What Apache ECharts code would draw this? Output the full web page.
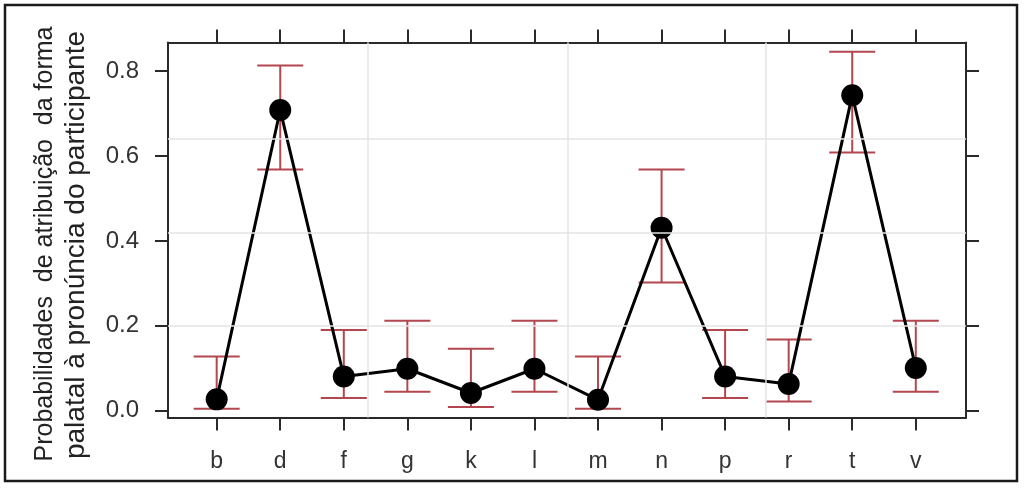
<!DOCTYPE html>
<html>
<head>
<meta charset="utf-8">
<script src="https://cdn.jsdelivr.net/npm/echarts@6/dist/echarts.min.js"></script>
<style>
  html, body { margin: 0; padding: 0; background: #fff; }
  #main { width: 1024px; height: 488px; }
</style>
</head>
<body>
<div id="main"></div>
<script>
// categories (consonants) and fitted probabilities with confidence limits
const categories = ['b', 'd', 'f', 'g', 'k', 'l', 'm', 'n', 'p', 'r', 't', 'v'];
const fitted = [0.027, 0.708, 0.081, 0.099, 0.042, 0.099, 0.026, 0.431, 0.081, 0.063, 0.743, 0.101];
const lower  = [0.005, 0.568, 0.030, 0.045, 0.009, 0.045, 0.005, 0.302, 0.030, 0.022, 0.608, 0.045];
const upper  = [0.128, 0.813, 0.190, 0.212, 0.146, 0.212, 0.128, 0.568, 0.190, 0.168, 0.845, 0.212];
const yTicks = [0, 0.2, 0.4, 0.6, 0.8];

const FONT = "'Liberation Sans', Arial, sans-serif";
const X_MIN = -0.766, X_MAX = 11.79;
const Y_MIN = -0.0157, Y_MAX = 0.867;
const idx = categories.map((c, i) => i);

let myChart = echarts.init(document.getElementById('main'));

const frameLine = { show: true, onZero: false, lineStyle: { color: '#2a2a2a', width: 2 } };
const tick = { show: true, inside: false, length: 13, lineStyle: { color: '#2a2a2a', width: 2 } };

function xAxisDef(pos, showLabel) {
  return {
    type: 'value', position: pos, min: X_MIN, max: X_MAX,
    axisLine: frameLine,
    axisTick: Object.assign({ customValues: idx }, tick),
    axisLabel: {
      show: showLabel, customValues: idx, margin: 33,
      formatter: v => categories[Math.round(v)],
      color: '#333', fontSize: 23, fontFamily: FONT
    },
    splitLine: { show: false }
  };
}
function yAxisDef(pos, showLabel) {
  return {
    type: 'value', position: pos, min: Y_MIN, max: Y_MAX,
    axisLine: frameLine,
    axisTick: Object.assign({ customValues: yTicks }, tick),
    axisLabel: {
      show: showLabel, customValues: yTicks, margin: 29,
      formatter: v => v.toFixed(1),
      color: '#333', fontSize: 24, fontFamily: FONT
    },
    splitLine: { show: false }
  };
}

let option = {
  backgroundColor: '#fff',
  animation: false,
  grid: { left: 168, top: 42.5, width: 798, height: 375 },
  xAxis: [xAxisDef('bottom', true), xAxisDef('top', false)],
  yAxis: [yAxisDef('left', true), yAxisDef('right', false)],
  graphic: [
    { type: 'rect', shape: { x: 5, y: 5, width: 1012, height: 476 },
      style: { fill: 'none', stroke: '#1a1a1a', lineWidth: 2.5 } },
    { type: 'text', x: 45, y: 244, rotation: Math.PI / 2,
      style: { text: 'Probabilidades  de atribuição  da forma', fill: '#222',
               font: '25px ' + FONT, align: 'center', verticalAlign: 'middle' } },
    { type: 'text', x: 76, y: 245, rotation: Math.PI / 2,
      style: { text: 'palatal à pronúncia do participante', fill: '#222',
               font: '28px ' + FONT, align: 'center', verticalAlign: 'middle' } }
  ],
  series: [
    {
      // background reference lines
      type: 'line', data: [], silent: true, z: 1,
      markLine: {
        silent: true, symbol: ['none', 'none'], label: { show: false },
        lineStyle: { color: '#e4e4e4', width: 1.5, type: 'solid' },
        data: [{ yAxis: 0.205 }, { yAxis: 0.425 }, { yAxis: 0.644 },
               { xAxis: 2.37 }, { xAxis: 5.52 }, { xAxis: 8.64 }]
      }
    },
    {
      type: 'custom', z: 3, silent: true,
      data: idx.map(i => [i, lower[i], upper[i]]),
      renderItem: function (params, api) {
        const lo = api.coord([api.value(0), api.value(1)]);
        const hi = api.coord([api.value(0), api.value(2)]);
        const w = 23;
        const st = { stroke: '#b3464f', lineWidth: 2 };
        return {
          type: 'group',
          children: [
            { type: 'line', shape: { x1: lo[0], y1: lo[1], x2: hi[0], y2: hi[1] }, style: st },
            { type: 'line', shape: { x1: lo[0] - w, y1: lo[1], x2: lo[0] + w, y2: lo[1] }, style: st },
            { type: 'line', shape: { x1: hi[0] - w, y1: hi[1], x2: hi[0] + w, y2: hi[1] }, style: st }
          ]
        };
      }
    },
    {
      type: 'line', z: 4, silent: true,
      data: idx.map(i => [i, fitted[i]]),
      symbol: 'circle', symbolSize: 22,
      itemStyle: { color: '#000' },
      lineStyle: { color: '#000', width: 3 }
    }
  ]
};
myChart.setOption(option);
</script>
</body>
</html>
